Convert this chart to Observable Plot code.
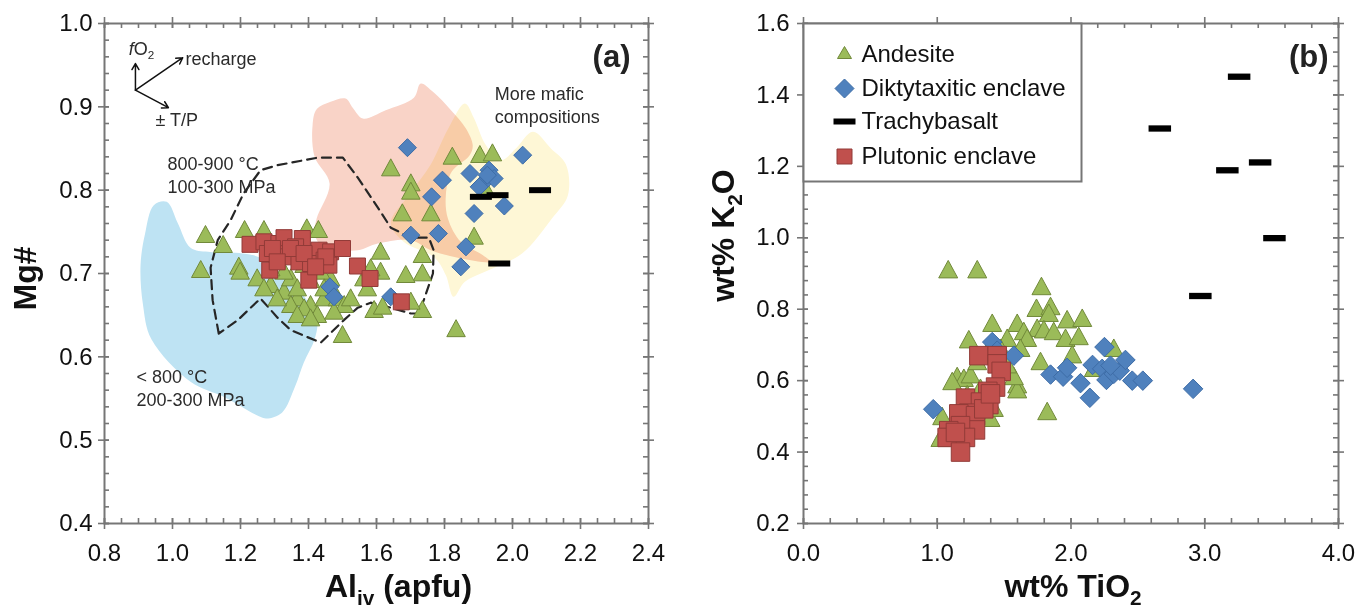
<!DOCTYPE html>
<html><head><meta charset="utf-8">
<script src="https://cdn.jsdelivr.net/npm/d3@7"></script>
<script src="https://cdn.jsdelivr.net/npm/@observablehq/plot@0.6"></script>
<style>
body{margin:0;background:#fff;}
#wrap{display:flex;width:1362px;height:610px;overflow:hidden;}
#wrap svg{display:block;}
</style></head><body><div id="wrap"></div>
<script>
// ---------------- Panel (a) data: Al_iv (apfu) vs Mg# ----------------
const aAndesite = [
[1.097,0.744],[1.149,0.732],[1.083,0.702],[1.195,0.706],[1.199,0.700],[1.212,0.750],[1.269,0.750],[1.395,0.752],[1.429,0.750],
[1.612,0.724],[1.612,0.700],[1.735,0.720],[1.735,0.698],[1.686,0.696],[1.593,0.654],[1.618,0.658],[1.735,0.654],[1.701,0.664],[1.500,0.624],
[1.249,0.692],[1.289,0.684],[1.328,0.676],[1.367,0.668],[1.406,0.660],[1.446,0.668],[1.485,0.668],[1.505,0.660],[1.426,0.648],[1.387,0.656],
[1.348,0.660],[1.308,0.668],[1.269,0.680],[1.348,0.692],[1.406,0.690],[1.465,0.692],[1.387,0.708],[1.328,0.700],[1.436,0.700],[1.563,0.692],
[1.573,0.680],[1.583,0.704],[1.446,0.680],[1.367,0.680],[1.289,0.704],[1.475,0.652],[1.524,0.668],[1.367,0.648],[1.406,0.644],
[1.642,0.824],[1.701,0.806],[1.701,0.796],[1.676,0.770],[1.760,0.770],[1.823,0.838],[1.904,0.840],[1.941,0.842],[1.887,0.742],[1.922,0.798],[1.834,0.631]
];
const aDiktytaxitic = [
[1.691,0.851],[1.794,0.812],[1.762,0.792],[1.875,0.820],[1.931,0.824],[1.912,0.808],[1.946,0.814],[1.902,0.804],[1.926,0.818],[2.030,0.842],
[1.976,0.781],[1.887,0.772],[1.701,0.746],[1.782,0.748],[1.863,0.732],[1.848,0.708],[1.463,0.684],[1.475,0.672],[1.642,0.672]
];
const aPlutonic = [
[1.228,0.735],[1.269,0.738],[1.313,0.736],[1.328,0.743],[1.382,0.742],[1.362,0.732],[1.431,0.728],[1.465,0.726],[1.500,0.730],[1.279,0.724],
[1.333,0.720],[1.372,0.714],[1.406,0.712],[1.446,0.716],[1.460,0.710],[1.286,0.704],[1.401,0.692],[1.544,0.709],[1.581,0.694],[1.673,0.666],
[1.347,0.730],[1.294,0.730],[1.387,0.724],[1.451,0.720],[1.308,0.714],[1.421,0.708]
];
const aTrachybasalt = [[1.907,0.792],[1.956,0.794],[2.081,0.800],[1.961,0.712]];

// shaded fields in panel (a)
const blueField = [
[0.945,0.782],[0.983,0.786],[1.015,0.761],[1.053,0.731],[1.105,0.726],[1.207,0.724],[1.258,0.719],[1.322,0.700],[1.386,0.673],[1.425,0.645],
[1.418,0.621],[1.386,0.593],[1.361,0.565],[1.322,0.533],[1.277,0.526],[1.258,0.528],[1.156,0.551],[1.053,0.570],[0.938,0.621],[0.913,0.663],
[0.906,0.710],[0.919,0.747]
];
const pinkField = [
[1.424,0.897],[1.465,0.906],[1.509,0.910],[1.530,0.899],[1.560,0.886],[1.627,0.896],[1.710,0.911],[1.730,0.928],[1.766,0.918],[1.819,0.896],
[1.863,0.874],[1.883,0.854],[1.874,0.842],[1.821,0.822],[1.804,0.794],[1.810,0.766],[1.848,0.738],[1.913,0.722],[1.936,0.714],[1.839,0.719],
[1.760,0.728],[1.701,0.740],[1.604,0.736],[1.545,0.728],[1.445,0.731],[1.418,0.747],[1.424,0.766],[1.462,0.808],[1.418,0.840],[1.412,0.878]
];
const yellowField = [
[1.860,0.904],[1.886,0.887],[1.922,0.854],[1.966,0.836],[2.010,0.850],[2.060,0.870],[2.113,0.850],[2.157,0.831],[2.163,0.794],[2.116,0.766],
[2.028,0.724],[1.936,0.705],[1.860,0.690],[1.827,0.672],[1.804,0.698],[1.771,0.719],[1.680,0.738],[1.642,0.761],[1.695,0.794],[1.760,0.831],[1.810,0.873]
];
const dashedField = [
[1.136,0.628],[1.118,0.668],[1.112,0.707],[1.133,0.740],[1.171,0.764],[1.209,0.796],[1.259,0.824],[1.309,0.830],[1.427,0.839],[1.501,0.839],
[1.545,0.815],[1.604,0.779],[1.642,0.755],[1.701,0.743],[1.754,0.743],[1.768,0.728],[1.766,0.700],[1.739,0.668],[1.724,0.652],[1.701,0.652],
[1.642,0.659],[1.583,0.665],[1.545,0.659],[1.504,0.644],[1.436,0.617],[1.348,0.632],[1.309,0.647],[1.259,0.670],[1.230,0.659],[1.192,0.644]
];
const vectorOrigin = [0.891,0.920];
const vectorTips = [[0.891,0.952],[1.030,0.959],[0.988,0.899]];
const aNotes = [
  {x:0.871,y:0.971,text:"*f*O_{2}"},
  {x:1.038,y:0.959,text:"recharge"},
  {x:0.950,y:0.886,text:"± T/P"},
  {x:0.985,y:0.8194,text:"800-900 °C\n100-300 MPa"},
  {x:0.894,y:0.5638,text:"< 800 °C\n200-300 MPa"},
  {x:1.948,y:0.9028,text:"More mafic\ncompositions"}
];
const aXTicks = [0.8,1.0,1.2,1.4,1.6,1.8,2.0,2.2,2.4];
const aYTicks = [0.4,0.5,0.6,0.7,0.8,0.9,1.0];

// ---------------- Panel (b) data: wt% TiO2 vs wt% K2O ----------------
const bAndesite = [
[1.082,0.904],[1.299,0.904],[1.779,0.857],[1.742,0.796],[1.847,0.801],[1.834,0.782],[1.971,0.764],[2.084,0.768],[1.411,0.754],[1.598,0.754],
[1.747,0.740],[1.797,0.736],[1.871,0.731],[1.959,0.712],[2.058,0.717],[1.647,0.731],[1.672,0.712],[1.523,0.712],[1.236,0.708],[2.009,0.666],
[1.772,0.647],[2.320,0.684],[1.822,0.507],[1.149,0.605],[1.199,0.600],[1.249,0.610],[1.112,0.591],[1.598,0.582],[1.598,0.568],[1.573,0.605],
[1.523,0.638],[1.374,0.675],[1.398,0.488],[1.037,0.493],[1.024,0.432],[2.171,0.628],[1.299,0.647],[1.473,0.684],[1.622,0.684],[1.323,0.572],
[1.423,0.516],[1.224,0.554]
];
const bDiktytaxitic = [
[0.970,0.520],[1.411,0.708],[1.448,0.684],[1.573,0.670],[1.847,0.617],[1.941,0.611],[1.971,0.636],[2.071,0.593],[2.141,0.552],[2.161,0.644],
[2.250,0.694],[2.233,0.633],[2.265,0.602],[2.320,0.619],[2.365,0.628],[2.407,0.658],[2.458,0.600],[2.537,0.600],[2.913,0.577],[2.295,0.642]
];
const bPlutonic = [
[1.311,0.670],[1.448,0.670],[1.448,0.647],[1.478,0.626],[1.436,0.582],[1.378,0.570],[1.386,0.533],[1.211,0.551],[1.323,0.540],[1.236,0.509],
[1.161,0.507],[1.286,0.502],[1.286,0.462],[1.174,0.474],[1.086,0.460],[1.074,0.441],[1.211,0.441],[1.174,0.400],[1.136,0.455],[1.348,0.521],[1.398,0.563]
];
const bTrachybasalt = [[3.257,1.451],[2.664,1.306],[3.169,1.189],[3.414,1.211],[3.521,0.999],[2.967,0.837]];
const bXTicks = [0,1,2,3,4];
const bYTicks = [0.2,0.4,0.6,0.8,1.0,1.2,1.4,1.6];
const legendNames = ["Andesite","Diktytaxitic enclave","Trachybasalt","Plutonic enclave"];

// ---------------- styling ----------------
const FONT = "'Liberation Sans', Arial, Helvetica, sans-serif";
const GRAY = "#767676";
const GREEN = "#9bbb59", GREEN_S = "#71893a";
const BLUE = "#4f81bd", BLUE_S = "#3d6ca6";
const RED = "#c0504d", RED_S = "#923b38";
const tri = (w,h) => ({draw(c){c.moveTo(0,-h*2/3);c.lineTo(w/2,h/3);c.lineTo(-w/2,h/3);c.closePath();}});
const sq = s => ({draw(c){c.rect(-s/2,-s/2,s,s);}});
const dia = s => ({draw(c){const r=s/2;c.moveTo(0,-r);c.lineTo(r,0);c.lineTo(0,r);c.lineTo(-r,0);c.closePath();}});
const bar = (w,h) => ({draw(c){c.rect(-w/2,-h/2,w,h);}});
const X = d => d[0], Y = d => d[1];
const fmt = d3.format(".1f");

function frameTicks(xMajor, xMinor, yMajor, yMinor, PW, PH) {
  const t = {stroke: GRAY, strokeWidth: 1.6};
  return [
    Plot.tickX(xMinor, {x: d=>d, ...t, insetTop: PH-5, insetBottom: 0}),
    Plot.tickX(xMinor, {x: d=>d, ...t, insetBottom: PH-5, insetTop: 0}),
    Plot.tickX(xMajor, {x: d=>d, ...t, insetTop: PH-5, insetBottom: -6}),
    Plot.tickX(xMajor, {x: d=>d, ...t, insetBottom: PH-5, insetTop: -6}),
    Plot.tickY(yMinor, {y: d=>d, ...t, insetRight: PW-5, insetLeft: 0}),
    Plot.tickY(yMinor, {y: d=>d, ...t, insetLeft: PW-5, insetRight: 0}),
    Plot.tickY(yMajor, {y: d=>d, ...t, insetRight: PW-5, insetLeft: -6}),
    Plot.tickY(yMajor, {y: d=>d, ...t, insetLeft: PW-5, insetRight: -6}),
    Plot.frame({stroke: GRAY, strokeWidth: 2})
  ];
}

// rich text: _{sub} and *italic*
function richText(svg) {
  svg.querySelectorAll("text").forEach(t => {
    const s = t.textContent;
    if (!/_\{|\*/.test(s) || t.querySelector("tspan")) return;
    const parts = s.split(/(_\{[^}]*\}|\*[^*]*\*)/).filter(p => p !== "");
    t.textContent = "";
    let shifted = false;
    for (const p of parts) {
      const ts = document.createElementNS("http://www.w3.org/2000/svg", "tspan");
      if (p.startsWith("_{")) {
        ts.textContent = p.slice(2, -1);
        ts.setAttribute("font-size", "65%");
        ts.setAttribute("dy", "0.38em");
        shifted = true;
      } else if (p.startsWith("*")) {
        ts.textContent = p.slice(1, -1);
        ts.setAttribute("font-style", "italic");
        if (shifted) { ts.setAttribute("dy", "-0.247em"); shifted = false; }
      } else {
        ts.textContent = p;
        if (shifted) { ts.setAttribute("dy", "-0.247em"); shifted = false; }
      }
      t.appendChild(ts);
    }
  });
}

// ---------------- Panel (a) ----------------
const PWa = 681-104-33, PH = 500;
const plotA = Plot.plot({
  width: 681, height: 610, marginLeft: 104, marginRight: 33, marginTop: 23, marginBottom: 87,
  x: {domain: [0.8, 2.4]}, y: {domain: [0.4, 1.0]},
  style: {fontFamily: FONT, fontSize: "24px", color: "#111", background: "white"},
  marks: [
    Plot.line(blueField, {x: X, y: Y, curve: "catmull-rom-closed", fill: "#bee3f3", stroke: "none"}),
    Plot.line(pinkField, {x: X, y: Y, curve: "catmull-rom-closed", fill: "#f9d3c7", stroke: "none"}),
    Plot.line(yellowField, {x: X, y: Y, curve: "catmull-rom-closed", fill: "#fef7d6", stroke: "none", mixBlendMode: "multiply"}),
    Plot.line(dashedField, {x: X, y: Y, curve: "linear-closed", stroke: "#262626", strokeWidth: 2.2, strokeDasharray: "9,6"}),
    ...frameTicks(aXTicks, d3.range(0.8, 2.401, 0.05), aYTicks, d3.range(0.4, 1.001, 0.02), PWa, PH),
    Plot.dot(aAndesite, {x: X, y: Y, symbol: tri(18.5,17), fill: GREEN, stroke: GREEN_S, strokeWidth: 1}),
    Plot.dot(aDiktytaxitic, {x: X, y: Y, symbol: dia(18), fill: BLUE, stroke: BLUE_S, strokeWidth: 1}),
    Plot.dot(aPlutonic, {x: X, y: Y, symbol: sq(16), fill: RED, stroke: RED_S, strokeWidth: 1}),
    Plot.dot(aTrachybasalt, {x: X, y: Y, symbol: bar(22,6), fill: "#000", stroke: "none"}),
    Plot.arrow(vectorTips, {x1: () => vectorOrigin[0], y1: () => vectorOrigin[1], x2: X, y2: Y, stroke: "#111", strokeWidth: 1.5, headLength: 7}),
    Plot.text(aNotes, {x: "x", y: "y", text: "text", textAnchor: "start", fontSize: 18, fill: "#2b2b2b", lineHeight: 1.28}),
    Plot.text(["(a)"], {text: d=>d, frameAnchor: "top-right", textAnchor: "end", lineAnchor: "middle", dx: -18, dy: 34, fontSize: 31, fontWeight: "bold", fill: "#222"}),
    Plot.axisX({ticks: aXTicks, tickSize: 0, tickPadding: 20, tickFormat: fmt, label: null}),
    Plot.axisY({ticks: aYTicks, tickSize: 0, tickPadding: 12, tickFormat: fmt, label: null}),
    Plot.text(["Al_{iv} (apfu)"], {text: d=>d, frameAnchor: "bottom", textAnchor: "middle", lineAnchor: "middle", dx: 22, dy: 63, fontSize: 32, fontWeight: "bold", fill: "#111"}),
    Plot.text(["Mg#"], {text: d=>d, frameAnchor: "left", textAnchor: "middle", lineAnchor: "middle", dx: -79, dy: 5, rotate: -90, fontSize: 32, fontWeight: "bold", fill: "#111"})
  ]
});

// ---------------- Panel (b) ----------------
const PWb = 681-122-24;
const legendMarks = [];
const legendSyms = [
  {symbol: tri(14,12), fill: GREEN, stroke: GREEN_S},
  {symbol: dia(19), fill: BLUE, stroke: BLUE_S},
  {symbol: bar(22,6), fill: "#000", stroke: "none"},
  {symbol: sq(15), fill: RED, stroke: RED_S}
];
const legendDy = [31, 65, 98, 133];
legendNames.forEach((name, i) => {
  legendMarks.push(Plot.dot([name], {frameAnchor: "top-left", dx: 41, dy: legendDy[i], strokeWidth: 1, ...legendSyms[i]}));
  legendMarks.push(Plot.text([name], {text: d=>d, frameAnchor: "top-left", dx: 58, dy: legendDy[i], textAnchor: "start", lineAnchor: "middle", fontSize: 24, fill: "#111"}));
});
const plotB = Plot.plot({
  width: 681, height: 610, marginLeft: 122, marginRight: 24, marginTop: 23, marginBottom: 87,
  x: {domain: [0, 4]}, y: {domain: [0.2, 1.6]},
  style: {fontFamily: FONT, fontSize: "24px", color: "#111", background: "white"},
  marks: [
    ...frameTicks(bXTicks, d3.range(0, 4.001, 0.2), bYTicks, d3.range(0.2, 1.601, 0.04), PWb, PH),
    Plot.frame({insetRight: PWb-278, insetBottom: PH-158, stroke: GRAY, strokeWidth: 2, fill: "white"}),
    ...legendMarks,
    Plot.dot(bAndesite, {x: X, y: Y, symbol: tri(19,17.5), fill: GREEN, stroke: GREEN_S, strokeWidth: 1}),
    Plot.dot(bDiktytaxitic, {x: X, y: Y, symbol: dia(19.5), fill: BLUE, stroke: BLUE_S, strokeWidth: 1}),
    Plot.dot(bPlutonic, {x: X, y: Y, symbol: sq(18.5), fill: RED, stroke: RED_S, strokeWidth: 1}),
    Plot.dot(bTrachybasalt, {x: X, y: Y, symbol: bar(22.5,6.3), fill: "#000", stroke: "none"}),
    Plot.text(["(b)"], {text: d=>d, frameAnchor: "top-right", textAnchor: "end", lineAnchor: "middle", dx: -10, dy: 34, fontSize: 31, fontWeight: "bold", fill: "#222"}),
    Plot.axisX({ticks: bXTicks, tickSize: 0, tickPadding: 20, tickFormat: fmt, label: null}),
    Plot.axisY({ticks: bYTicks, tickSize: 0, tickPadding: 14, tickFormat: fmt, label: null}),
    Plot.text(["wt% TiO_{2}"], {text: d=>d, frameAnchor: "bottom", textAnchor: "middle", lineAnchor: "middle", dx: 2, dy: 63, fontSize: 32, fontWeight: "bold", fill: "#111"}),
    Plot.text(["wt% K_{2}O"], {text: d=>d, frameAnchor: "left", textAnchor: "middle", lineAnchor: "middle", dx: -80, dy: -38, rotate: -90, fontSize: 32, fontWeight: "bold", fill: "#111"})
  ]
});

const wrap = document.getElementById("wrap");
wrap.appendChild(plotA);
wrap.appendChild(plotB);
richText(plotA);
richText(plotB);
</script></body></html>
